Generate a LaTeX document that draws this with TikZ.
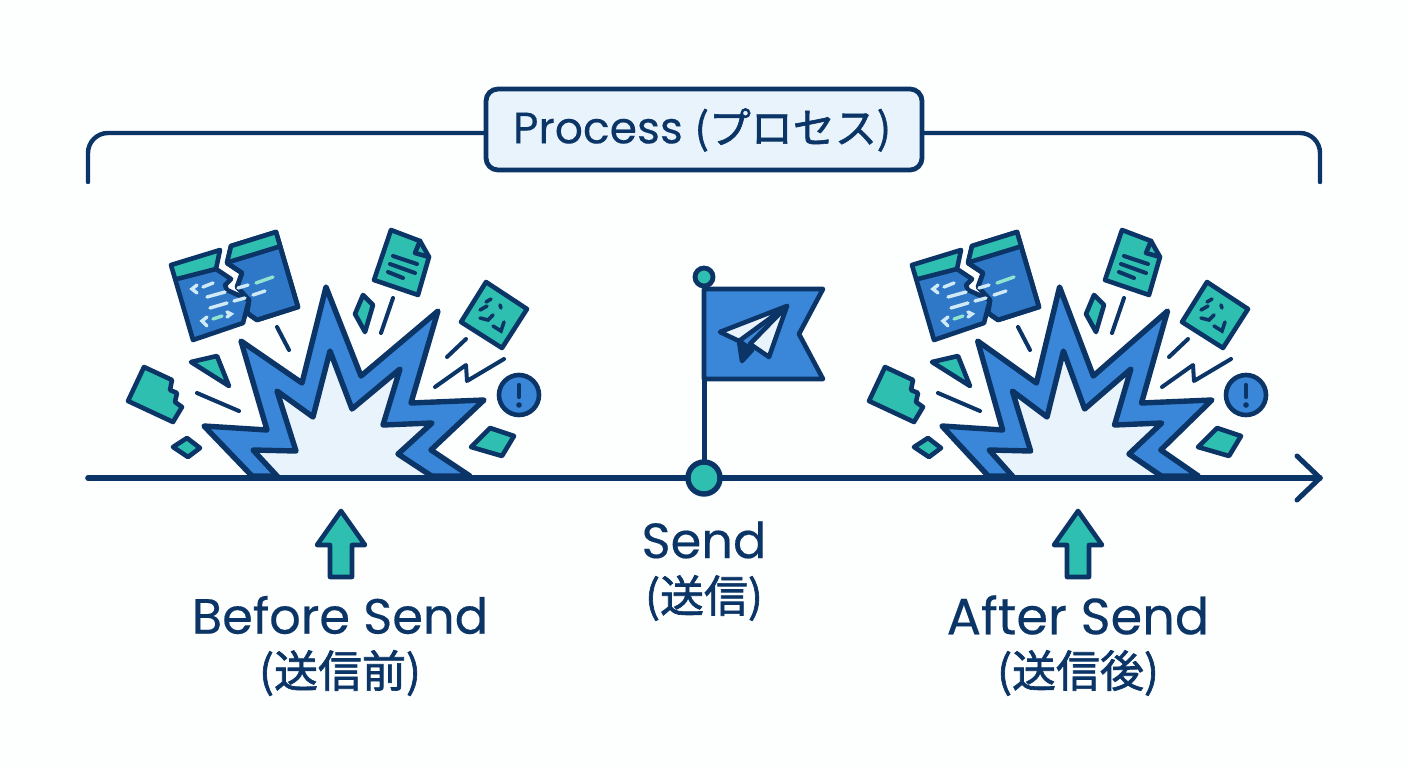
\documentclass[tikz,border=0pt]{standalone}
\usepackage{fontspec}
\setmainfont[FakeBold=0.3]{Poppins}
\newfontfamily\cjk[FakeBold=1.5]{Noto Sans CJK JP}
\definecolor{navy}{HTML}{0B3566}
\definecolor{blue}{HTML}{3A86D8}
\definecolor{teal}{HTML}{2FBFB0}
\definecolor{pale}{HTML}{E9F3FC}
\definecolor{codeblue}{HTML}{2F78C8}
\definecolor{dashl}{HTML}{CFE9F7}
\definecolor{dashm}{HTML}{8FE3CF}
\tikzset{
  ol/.style={draw=navy,line width=5.4pt,line join=round,line cap=round},
  olt/.style={draw=navy,line width=4.6pt,line join=round,line cap=round},
  tealp/.style={olt,fill=teal},
  bluep/.style={olt,fill=codeblue},
  stroke/.style={navy,line width=4pt,line cap=round},
  chipmark/.style={navy,line width=3.6pt,line cap=round},
  codel/.style={dashl,line width=3.4pt,line cap=round},
  codem/.style={dashm,line width=3.4pt,line cap=round},
  lab/.style={text=navy,align=center,inner sep=0pt,font=\fontsize{49.5}{58}\selectfont},
  labj/.style={text=navy,align=center,inner sep=0pt,font=\cjk\fontsize{44}{52}\selectfont},
  uparrow/.style={olt,fill=teal},
}
\newcommand{\burstgroup}[8]{%
  % #1 code+left shards, #2 burst shift, #3 burst xscale, #4 doc+shard, #5 chip, #6 chip strokes, #7 lightning, #8 alert+quad
  \begin{scope}[xshift=#1 pt]
    \path[bluep] (231,246)--(276,232)--(298,307)--(257,320)--(247,313)--(249,300)--(237,287)--(242,273)--(227,263)--cycle;
    \path[fill=teal] (231,246)--(276,232)--(278,247)--(229,262)--cycle;
    \draw[olt] (231,246)--(276,232)--(298,307)--(257,320)--(247,313)--(249,300)--(237,287)--(242,273)--(227,263)--cycle;
    \draw[olt] (229,262)--(278,247);
    \path[fill=codeblue] (171,265)--(220,250)--(216,269)--(231,279)--(225,285)--(227,290)--(249,300)--(243,323)--(193,340)--cycle;
    \path[fill=teal] (171,265)--(220,250)--(216,269)--(177,279)--cycle;
    \draw[olt] (171,265)--(220,250)--(216,269)--(231,279)--(225,285)--(227,290)--(249,300)--(243,323)--(193,340)--cycle;
    \draw[olt] (177,279)--(216,269);
    \draw[codel] (197,285)--(192,289)--(197,293);
    \draw[codel] (203,287)--(213,283);
    \draw[codel] (207,297)--(225,292);
    \draw[codel] (238,288)--(248,285);
    \draw[codem] (256,283)--(273,277);
    \draw[codel] (210,308)--(227,303);
    \draw[codel] (234,301)--(245,298);
    \draw[codel] (253,295)--(265,291);
    \draw[codel] (207,317)--(202,321)--(207,326);
    \draw[codem] (213,319)--(222,316);
    \draw[codel] (227,312)--(231,314)--(227,317);
    \draw[tealp] (191,362)--(217,356)--(229,386)--cycle;
    \draw[tealp] (144,367)--(172,380)--(170,390)--(177,393)--(175,402)--(182,407)--(173,422)--(128,401)--cycle;
    \draw[tealp] (173,447)--(187,438)--(200,448)--(188,457)--cycle;
    \draw[stroke] (277,327)--(289,350);
    \draw[stroke] (197,393)--(239,411);
  \end{scope}
  \begin{scope}[xshift=#2 pt,xscale=#3]
    \draw[ol,fill=blue] (252,476)--(204,426)--(267,430)--(241,341)--(302,383)--(326,287)--(361,376)--(438,311)--(411,403)--(484,400)--(431,450)--(470,476)--cycle;
    \path[fill=pale] (278,477)--(253,450)--(296,451)--(277,391)--(313,417)--(330,351)--(352,409)--(400,369)--(383,425)--(432,423)--(398,454)--(433,477)--cycle;
    \draw[ol] (278,477)--(253,450)--(296,451)--(277,391)--(313,417)--(330,351)--(352,409)--(400,369)--(383,425)--(432,423)--(398,454)--(433,477);
  \end{scope}
  \begin{scope}[xshift=#4 pt]
    \draw[tealp] (391,230)--(420,241)--(429,257)--(418,295)--(374,280)--cycle;
    \draw[olt] (420,241)--(415,253)--(429,257);
    \draw[stroke] (393,256)--(417,264);
    \draw[stroke] (390,264)--(415,273);
    \draw[stroke] (388,272)--(403,278);
    \draw[tealp] (363,295)--(373,305)--(365,332)--(355,314)--cycle;
    \draw[stroke] (393,298)--(381,333);
  \end{scope}
  \begin{scope}[xshift=#5 pt]
    \draw[tealp] (486,282)--(527,309)--(502,348)--(461,322)--cycle;
    \draw[chipmark] (486,302)--(491,299);
    \draw[chipmark] (500,305)--(501,308);
    \draw[chipmark] (480,318)--(488,320)--(493,315);
    \draw[chipmark] (480,310)--(487,306);
    \draw[chipmark] (493,326)--(501,331)--(504,322);
  \end{scope}
  \begin{scope}[xshift=#6 pt]
    \draw[stroke] (466,339)--(447,357);
  \end{scope}
  \begin{scope}[xshift=#7 pt]
    \draw[stroke,line join=round] (435,387)--(466,365)--(467,381)--(504,359);
  \end{scope}
  \begin{scope}[xshift=#8 pt]
    \draw[olt,fill=blue] (519,395) circle (20);
    \draw[navy,line width=4.2pt,line cap=round] (519,385)--(519,397);
    \fill[navy] (519,405) circle (2.8);
    \draw[tealp] (490,428)--(514,436)--(502,456)--(471,447)--cycle;
  \end{scope}
}
\begin{document}
\begin{tikzpicture}[x=1pt,y=-1pt]
\useasboundingbox (0,0) rectangle (1408,768);
\fill[white!99!teal] (0,0) rectangle (1408,768);

% bracket
\coordinate (bl) at (88,182);
\coordinate (br) at (1320,182);
\coordinate (jl) at (486,133);
\coordinate (jr) at (922,133);
\draw[navy,line width=4.4pt,line cap=round,rounded corners=20pt] (bl) |- (jl);
\draw[navy,line width=4.4pt,line cap=round,rounded corners=20pt] (br) |- (jr);
\node[draw=navy,line width=4.8pt,fill=pale,rounded corners=12pt,minimum width=436pt,minimum height=81pt,inner sep=0pt] (proc) at (704,129.5) {};
\node[text=navy,inner sep=0pt,font=\fontsize{44}{54}\selectfont] (proct) at (702,130) {Process {\cjk\fontsize{42}{50}\selectfont (プロセス)}};

% bursts
\burstgroup{0}{0}{1}{0}{0}{0}{0}{0}
\burstgroup{741}{745.3}{0.964}{731}{721}{722}{727}{727}

% timeline
\coordinate (ts) at (88,478);
\coordinate (te) at (1320,478);
\coordinate (ta) at (1297,456);
\coordinate (tb) at (1297,500);
\draw[navy,line width=5.6pt,line cap=round] (ts)--(te);
\draw[navy,line width=5pt,line cap=round,line join=round] (ta)--(te)--(tb);

% flag
\node[circle,draw=navy,line width=4.8pt,fill=teal,minimum size=18pt,inner sep=0pt] (ftop) at (704,277) {};
\draw[navy,line width=5pt] (ftop)--(704,478);
\draw[olt,line width=4.6pt,fill=blue] (704,289)--(823,289)--(799,334)--(823,379)--(704,379)--cycle;
\node[circle,draw=navy,line width=5.4pt,fill=teal,minimum size=32pt,inner sep=0pt] (fbot) at (704,478) {};
\draw[olt,fill=pale] (787,306)--(720,332)--(739,341)--cycle;
\draw[olt,fill=navy] (739,341)--(742,361)--(752,350)--cycle;
\draw[olt,fill=pale] (787,306)--(750,344)--(769,357)--cycle;

% labels and arrows
\draw[uparrow] (341,511)--(365,545)--(352,545)--(352,577)--(330,577)--(330,545)--(317,545)--cycle;
\draw[uparrow] (1078,511)--(1102,545)--(1089,545)--(1089,577)--(1067,577)--(1067,545)--(1054,545)--cycle;
\node[lab] (before) at (340,615) {Before Send};
\node[labj] (beforej) at (340,673) {(送信前)};
\node[lab] (send) at (704,540) {Send};
\node[labj] (sendj) at (704,598) {(送信)};
\node[lab,font=\fontsize{51}{58}\selectfont] (after) at (1078,615) {After Send};
\node[labj] (afterj) at (1078,673) {(送信後)};
\end{tikzpicture}
\end{document}
